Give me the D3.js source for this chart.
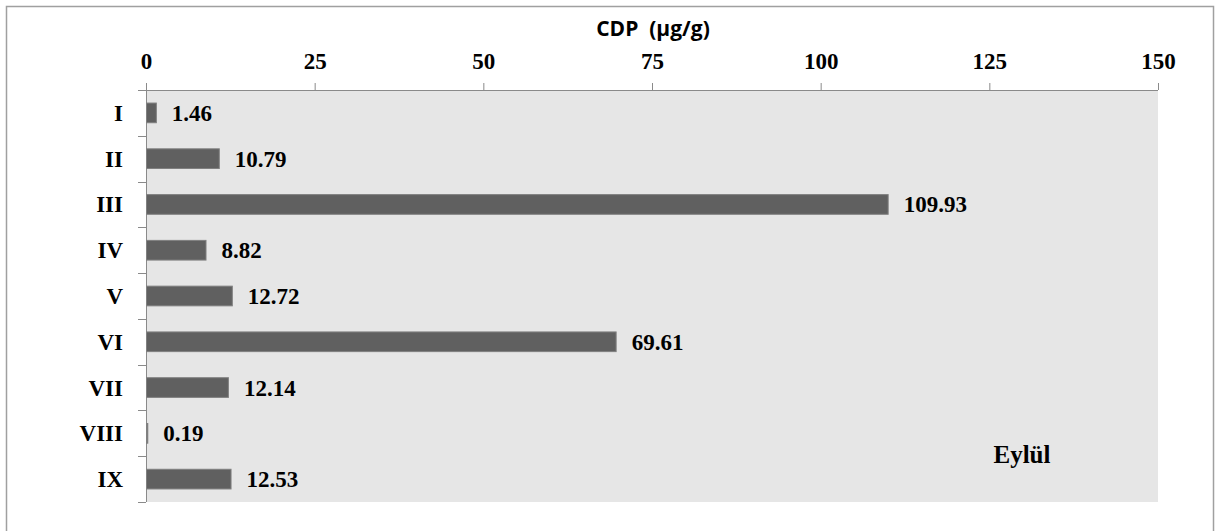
<!DOCTYPE html>
<html><head><meta charset="utf-8">
<script src="https://cdn.jsdelivr.net/npm/d3@7"></script>
<style>body{margin:0;background:#fff}svg{display:block}</style>
</head><body>
<script>
const categories = ["I","II","III","IV","V","VI","VII","VIII","IX"];
const values = [1.46,10.79,109.93,8.82,12.72,69.61,12.14,0.19,12.53];
const tickValues = [0,25,50,75,100,125,150];
const axisTitle = "CDP  (µg/g)";
const panelLabel = "Eylül";

(function(){
const W=1217,H=531;
const svg=d3.select("body").append("svg").attr("width",W).attr("height",H);
svg.append("rect").attr("x",6.5).attr("y",6.5).attr("width",1207).attr("height",540)
  .attr("fill","#fff").attr("stroke","#a0a0a0").attr("stroke-width",1.5);

const pl=146,pr=1158,pt=90,pb=502;
const x=d3.scaleLinear().domain([0,150]).range([pl,pr]);
const y=d3.scaleBand().domain(categories).range([pt,pb]).paddingInner(0.57).paddingOuter(0.285);
const yb=d3.scaleBand().domain(categories).range([pt,pb]);

svg.append("rect").attr("x",pl).attr("y",pt).attr("width",pr-pl).attr("height",pb-pt).attr("fill","#e6e6e6");

const serif="'Liberation Serif','Times New Roman',serif";

const xa=d3.axisTop(x).tickValues(tickValues).tickSize(7).tickPadding(14).tickFormat(d3.format("d"));
const gx=svg.append("g").attr("transform",`translate(0,${pt})`).call(xa);
gx.select(".domain").attr("stroke","#8a8a8a").attr("d",`M${pl-8},0.5H${pr}`);
gx.selectAll(".tick line").attr("stroke","#8a8a8a");
gx.selectAll(".tick text").attr("font-family",serif).attr("font-weight","bold").attr("font-size",23).attr("fill","#000");

const ga=svg.append("g");
ga.append("line").attr("x1",pl+0.5).attr("x2",pl+0.5).attr("y1",pt).attr("y2",pb).attr("stroke","#8a8a8a");
const bounds=categories.map(c=>yb(c)).concat([pb]);
ga.selectAll("line.t").data(bounds).join("line").attr("class","t")
  .attr("x1",pl-8).attr("x2",pl).attr("y1",d=>Math.round(d)+0.5).attr("y2",d=>Math.round(d)+0.5).attr("stroke","#8a8a8a");
ga.selectAll("text").data(categories).join("text")
  .attr("x",123).attr("y",d=>yb(d)+yb.bandwidth()/2).attr("dy","0.35em")
  .attr("text-anchor","end").attr("font-family",serif).attr("font-weight","bold").attr("font-size",23).text(d=>d);

const data=categories.map((c,i)=>({c,v:values[i]}));
svg.selectAll("rect.bar").data(data).join("rect").attr("class","bar")
  .attr("x",x(0)+0.5).attr("y",d=>y(d.c)).attr("width",d=>Math.max(1,x(d.v)-x(0))).attr("height",y.bandwidth())
  .attr("fill","#606060").attr("stroke","#808080").attr("stroke-width",1);
svg.selectAll("text.val").data(data).join("text").attr("class","val")
  .attr("x",d=>x(d.v)+16).attr("y",d=>y(d.c)+y.bandwidth()/2).attr("dy","0.35em")
  .attr("font-family",serif).attr("font-weight","bold").attr("font-size",23).text(d=>d.v.toFixed(2));

svg.append("text").attr("x",653).attr("y",36).attr("text-anchor","middle")
  .attr("font-family","'Open Sans','Liberation Sans',sans-serif").attr("font-weight","bold").attr("font-size",21)
  .style("white-space","pre").text(axisTitle);
svg.append("text").attr("x",1022).attr("y",463).attr("text-anchor","middle")
  .attr("font-family",serif).attr("font-weight","bold").attr("font-size",25).text(panelLabel);
})();
</script>
</body></html>
